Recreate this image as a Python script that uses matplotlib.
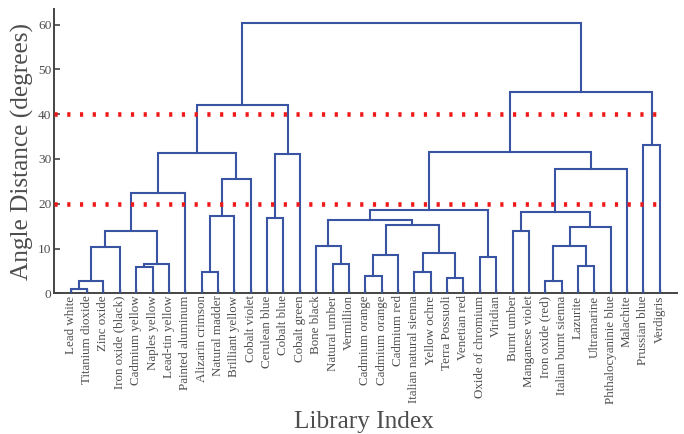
import matplotlib
matplotlib.use("Agg")
import matplotlib.pyplot as plt

plt.rcParams["font.family"] = ["Liberation Serif", "DejaVu Serif"]
plt.rcParams["lines.scale_dashes"] = False

# Leaf labels, in display order
pigments = [
    "Lead white", "Titanium dioxide", "Zinc oxide", "Iron oxide (black)",
    "Cadmium yellow", "Naples yellow", "Lead-tin yellow", "Painted aluminum",
    "Alizarin crimson", "Natural madder", "Brilliant yellow", "Cobalt violet",
    "Cerulean blue", "Cobalt blue", "Cobalt green", "Bone black",
    "Natural umber", "Vermillion", "Cadmium orange", "Cadmium orange",
    "Cadmium red", "Italian natural sienna", "Yellow ochre", "Terra Possuoli",
    "Venetian red", "Oxide of chromium", "Viridian", "Burnt umber",
    "Manganese violet", "Iron oxide (red)", "Italian burnt sienna", "Lazurite",
    "Ultramarine", "Phthalocyaninie blue", "Malachite", "Prussian blue",
    "Verdigris",
]

# Linkage: ids < n are leaves, id n + k is the cluster formed in row k
merge_left = [0, 37, 38, 4, 40, 39, 42, 8, 44, 45, 43, 12, 48, 47,
              16, 15, 18, 53, 21, 23, 55, 54, 52, 25, 59, 27, 29, 31,
              63, 65, 62, 67, 61, 35, 69, 50]
merge_right = [1, 2, 3, 5, 6, 41, 7, 9, 10, 11, 46, 13, 14, 49,
               17, 51, 19, 20, 22, 24, 56, 57, 58, 26, 60, 28, 30, 32,
               64, 33, 66, 34, 68, 36, 70, 71]
merge_height = [0.9, 2.8, 10.3, 5.9, 6.5, 13.9, 22.5, 4.7, 17.3, 25.6, 31.3,
                16.8, 31.2, 42.0, 6.6, 10.6, 3.9, 8.6, 4.8, 3.4, 9.0, 15.3,
                16.4, 8.2, 18.5, 13.8, 2.8, 6.1, 10.6, 14.7, 18.2, 27.7,
                31.6, 33.0, 45.0, 60.3]

# Horizontal cut-off levels
cut_levels = [20, 40]

LINE_BLUE = "#3a54a4"
TEXT_GREY = "#4d4d4d"
AXIS_GREY = "#444444"

fig = plt.figure(figsize=(6.84, 4.34), dpi=100)
W, H = 684, 434
left, right, top, bottom = 53.5, 677.0, 9.3, 293.3
ax = fig.add_axes([left / W, 1 - bottom / H, (right - left) / W, (bottom - top) / H])

n = len(pigments)
node_x = {i: i + 1.0 for i in range(n)}
node_h = {i: 0.0 for i in range(n)}
for k, (a, b, h) in enumerate(zip(merge_left, merge_right, merge_height)):
    xa, xb = node_x[a], node_x[b]
    ax.plot([xa, xa, xb, xb], [node_h[a], h, h, node_h[b]],
            color=LINE_BLUE, lw=1.5, solid_joinstyle="miter", zorder=3)
    node_x[n + k] = (xa + xb) / 2
    node_h[n + k] = h

for lvl in cut_levels:
    ax.plot([0, n], [lvl, lvl], color="#f01818", lw=3.3,
            linestyle=(0, (2.3, 6.87)), dash_capstyle="butt", zorder=4)

ax.set_xlim(-0.05, n + 1.05)
ax.set_ylim(0, 63.4)

ax.set_xticks(range(1, n + 1))
ax.set_xticklabels(pigments, rotation=90, fontsize=9.4, color=TEXT_GREY)
ax.set_yticks([0, 10, 20, 30, 40, 50, 60])
ax.tick_params(axis="y", direction="in", length=4.3, width=1.2,
               color=AXIS_GREY, labelsize=9.6, labelcolor=TEXT_GREY, pad=1.5)
ax.tick_params(axis="x", direction="in", length=3, width=1.0,
               color=AXIS_GREY, pad=1.5)

for side in ("top", "right"):
    ax.spines[side].set_visible(False)
for side in ("left", "bottom"):
    ax.spines[side].set_color(AXIS_GREY)
    ax.spines[side].set_linewidth(1.4)
ax.patch.set_visible(False)

fig.text(22.5 / W, 1 - 151.5 / H, "Angle Distance (degrees)", rotation=90,
         ha="center", va="center", fontsize=18.2, color=TEXT_GREY)
fig.text(364 / W, 1 - 428.3 / H, "Library Index", ha="center",
         va="baseline", fontsize=18.2, color=TEXT_GREY)

fig.savefig("out.png", dpi=100)
